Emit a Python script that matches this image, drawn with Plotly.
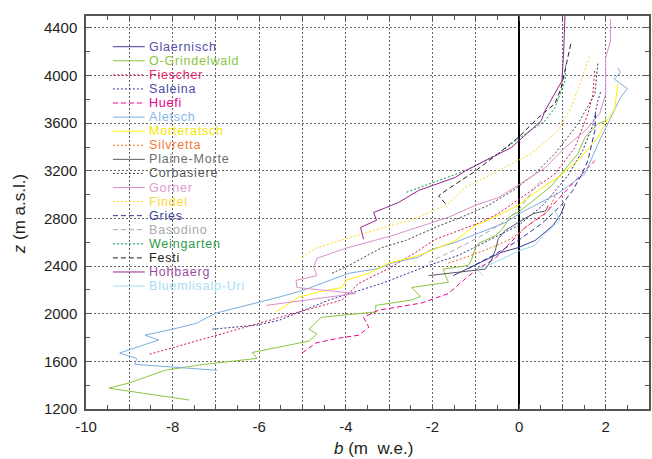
import plotly.graph_objects as go

# ---- mass-balance profiles: b (m w.e.) against elevation z (m a.s.l.) ----
glaernisch_b = [-1.52, -1.17, -0.78, -0.41, -0.02, 0.37, 0.78, 0.97, 1.06]
glaernisch_z = [2320, 2380, 2450, 2515, 2555, 2615, 2740, 2840, 2925]

grindelwald_b = [-7.61, -9.47, -8.99, -8.18, -7.38, -6.05, -6.16, -4.85, -4.67, -4.85, -4.57,
                 -3.31, -3.31, -2.48, -2.28, -2.48, -1.63, -1.70, -1.75, -1.17, -1.10, -1.01,
                 -0.94, -0.55, -0.41, -0.18, -0.02, 0.37, 0.74, 1.36, 1.52, 1.82, 2.00, 2.00]
grindelwald_z = [1275, 1375, 1420, 1525, 1570, 1625, 1675, 1770, 1830, 1870, 1970,
                 2015, 2070, 2115, 2145, 2220, 2265, 2320, 2375, 2405, 2450, 2555,
                 2590, 2655, 2700, 2825, 2850, 2965, 3070, 3345, 3480, 3595, 3620, 3660]

fiescher_b = [-8.53, -7.38, -6.00, -5.08, -4.09, -3.70, -3.01, -2.39, -1.93, -1.56, -0.94,
              -0.48, 0.44, 0.83, 1.29, 1.59, 1.70, 1.75]
fiescher_z = [1660, 1780, 1920, 2015, 2115, 2255, 2380, 2515, 2625, 2675, 2760,
              2840, 3075, 3175, 3395, 3680, 3830, 4055]

saleina_b = [-7.08, -6.05, -5.54, -4.39, -3.17, -2.09, -1.40, -0.71, -0.02, 0.55, 1.13,
             1.47, 1.70, 1.82, 1.89]
saleina_z = [1870, 1905, 1945, 2115, 2255, 2405, 2490, 2615, 2740, 2910, 3160,
             3370, 3580, 3790, 3870]

huefi_b = [-5.01, -4.69, -4.16, -3.70, -3.47, -3.59, -3.24, -2.78, -2.25, -1.63, -1.24,
           -0.94, -0.55, 0.14, 0.60, 1.24, 1.75]
huefi_z = [1670, 1755, 1795, 1820, 1885, 1970, 2030, 2055, 2090, 2170, 2295,
           2380, 2465, 2725, 2840, 3095, 3285]

aletsch_b = [-6.97, -8.87, -8.83, -9.22, -8.32, -8.64, -8.00, -7.45, -7.00, -6.00, -5.54,
             -5.00, -3.93, -3.24, -2.94, -2.32, -2.02, -1.47, -0.94, -0.32, 0.05, 0.60,
             0.90, 1.52, 1.89, 2.05, 2.34, 2.50, 2.20, 2.34, 2.28]
aletsch_z = [1525, 1575, 1625, 1670, 1780, 1820, 1870, 1920, 2005, 2095, 2140,
             2195, 2340, 2380, 2425, 2475, 2540, 2600, 2675, 2765, 2850, 2950,
             3010, 3175, 3480, 3595, 3815, 3890, 3970, 4025, 4065]

morteratsch_b = [-5.61, -5.08, -4.67, -4.09, -4.00, -3.47, -3.01, -2.39, -2.02, -1.47, -1.01,
                 -0.48, -0.02, 0.44, 0.90, 1.36, 1.82, 1.98, 2.21, 2.28]
morteratsch_z = [2015, 2140, 2180, 2220, 2280, 2340, 2425, 2480, 2530, 2615, 2740,
                 2825, 2910, 3035, 3145, 3285, 3480, 3595, 3720, 3930]

silvretta_b = [-1.63, -1.10, -0.64, -0.18, 0.21, 0.67, 0.80, 0.90]
silvretta_z = [2425, 2490, 2555, 2630, 2740, 2865, 2965, 3035]

plainemorte_b = [-2.09, -0.78, -0.64, -0.55, -0.48, -0.32, -0.02, 0.32, 0.62, 0.67]
plainemorte_z = [2320, 2375, 2450, 2530, 2630, 2700, 2765, 2840, 2865, 2910]

corbasiere_b = [-4.32, -3.93, -3.17, -2.62, -1.93, -1.24, -0.71, -0.14, 0.32, 0.83, 1.36,
                1.75, 1.82]
corbasiere_z = [2340, 2405, 2555, 2615, 2725, 2825, 2910, 3035, 3160, 3345, 3595,
                3845, 4105]

gorner_b = [-5.84, -3.77, -5.13, -5.15, -4.67, -4.74, -4.67, -4.00, -2.94, -1.63, -1.01,
            -0.48, 0.05, 0.60, 1.06, 1.52, 1.86, 2.00, 2.00, 2.11, 2.11]
gorner_z = [2070, 2170, 2220, 2280, 2320, 2390, 2465, 2550, 2655, 2810, 2910,
            2975, 3095, 3225, 3395, 3535, 3680, 3845, 4150, 4290, 4475]

findel_b = [-5.01, -4.69, -4.00, -3.17, -2.39, -1.63, -1.24, -0.48, 0.28, 0.90, 1.20,
            1.43, 1.63]
findel_z = [2475, 2550, 2630, 2715, 2800, 2925, 3060, 3200, 3345, 3535, 3730,
            3955, 4165]

gries_b = [-1.17, -0.60, -0.02, 0.55, 0.97, 1.24, 1.43, 1.59, 1.75, 1.77]
gries_z = [2380, 2490, 2615, 2765, 2910, 3035, 3160, 3285, 3540, 3700]

basodino_b = [-2.09, -1.52, -0.94, -0.48, -0.02, 0.32, 0.55]
basodino_z = [2430, 2530, 2640, 2740, 2865, 3035, 3135]

weingarten_b = [-2.60, -2.02, -1.24, -0.48, 0.14, 0.60, 0.83, 0.97, 1.06, 1.08]
weingarten_z = [3020, 3095, 3200, 3345, 3510, 3620, 3730, 3870, 3955, 4105]

festi_b = [-1.70, -1.86, -1.63, -1.06, -0.48, -0.02, 0.44, 0.83, 0.97, 1.08, 1.20]
festi_z = [2925, 2990, 3050, 3185, 3345, 3480, 3645, 3765, 3895, 4065, 4275]

hohbaerg_b = [-3.59, -3.66, -3.29, -3.36, -3.08, -2.78, -2.32, -1.47, -1.24, -0.18, 0.05,
              0.51, 0.60, 0.99, 1.03, 1.06]
hohbaerg_z = [2625, 2725, 2785, 2850, 2890, 2935, 3035, 3145, 3200, 3395, 3470,
              3620, 3705, 3955, 4205, 4500]

bluemlisalp_b = [-0.83, -0.99, -0.71, -0.32, -0.02, 0.37, 0.55, 0.94, 0.83]
bluemlisalp_z = [2320, 2380, 2405, 2475, 2525, 2575, 2655, 2785, 2865]

# glacier names, in legend order
names = ["Glaernisch", "O-Grindelwald", "Fiescher", "Saleina", "Huefi", "Aletsch",
         "Morteratsch", "Silvretta", "Plaine-Morte", "Corbasiere", "Gorner", "Findel",
         "Gries", "Basodino", "Weingarten", "Festi", "Hohbaerg", "Bluemlisalp-Uri"]

profiles = [
    (glaernisch_b, glaernisch_z), (grindelwald_b, grindelwald_z), (fiescher_b, fiescher_z),
    (saleina_b, saleina_z), (huefi_b, huefi_z), (aletsch_b, aletsch_z),
    (morteratsch_b, morteratsch_z), (silvretta_b, silvretta_z), (plainemorte_b, plainemorte_z),
    (corbasiere_b, corbasiere_z), (gorner_b, gorner_z), (findel_b, findel_z),
    (gries_b, gries_z), (basodino_b, basodino_z), (weingarten_b, weingarten_z),
    (festi_b, festi_z), (hohbaerg_b, hohbaerg_z), (bluemlisalp_b, bluemlisalp_z),
]

# line styles
DOT = "2px,2px"
DASH = "5px,3px"
colors = ["#3b3b98", "#8cc63f", "#d6125c", "#2e3192", "#ec008c", "#7eaee0",
          "#fff200", "#f26522", "#58595b", "#414042", "#d98fcb", "#ffd51a",
          "#2e3192", "#a7a9ac", "#009a44", "#231f20", "#92278f", "#a3dbef"]
dashes = ["solid", "solid", DOT, DOT, DASH, "solid",
          "solid", DOT, "solid", DOT, "solid", DOT,
          DASH, DASH, DOT, DASH, "solid", "solid"]
label_colors = ["#5050a8", "#8cc63f", "#e8206a", "#4b4ba8", "#ec008c", "#86b6e8",
                "#f5e600", "#f47a3a", "#6d6e71", "#58595b", "#e29bd0", "#fdd835",
                "#3c3fa0", "#a7a9ac", "#2f9a48", "#231f20", "#9b4da0", "#a8dcef"]

FONT = "Liberation Sans, Arial, sans-serif"

fig = go.Figure()
for name, (b, z), c, d in zip(names, profiles, colors, dashes):
    fig.add_trace(go.Scatter(x=b, y=z, mode="lines", name=name, showlegend=False,
                             line=dict(color=c, width=1, dash=d)))

# hand-built legend (compact row spacing)
L, R, T, B = 86, 1, 16, 50
W, H = 652 - L - R, 459 - T - B
ROW = 14.08


def px_x(p):
    return (p - L) / W


def px_y(p):
    return (T + H - p) / H


shapes = [dict(type="rect", xref="paper", yref="paper", layer="between",
               x0=px_x(106), x1=px_x(241), y0=px_y(299), y1=px_y(33),
               fillcolor="white", line=dict(width=0))]
annotations = []
for i, (name, c, d, lc) in enumerate(zip(names, colors, dashes, label_colors)):
    yy = px_y(46.7 + ROW * i)
    shapes.append(dict(type="line", xref="paper", yref="paper", layer="above",
                       x0=px_x(113), x1=px_x(145), y0=yy, y1=yy,
                       line=dict(color=c, width=1, dash=d)))
    annotations.append(dict(text=f'<span style="letter-spacing:0.8px">{name}</span>',
                            xref="paper", yref="paper", x=px_x(148), y=yy,
                            xanchor="left", yanchor="middle", showarrow=False,
                            borderpad=0,
                            font=dict(family=FONT, size=12.5, color=lc)))

annotations.append(dict(text="<i>b</i> (m&nbsp; w.e.)", xref="paper", yref="paper",
                        x=px_x(375), y=px_y(448), xanchor="center", yanchor="middle",
                        showarrow=False, font=dict(family=FONT, size=17, color="#231f20")))
annotations.append(dict(text="<i>z</i> (m a.s.l.)", xref="paper", yref="paper",
                        x=px_x(20), y=px_y(214), xanchor="center", yanchor="middle",
                        textangle=-90, showarrow=False,
                        font=dict(family=FONT, size=17, color="#231f20")))

x_ticks = list(range(-10, 4))
y_ticks = list(range(1200, 4401, 400))

axis_common = dict(ticks="inside", ticklen=5, tickcolor="#555", showline=True,
                   linecolor="#555", linewidth=1.5, mirror="ticks", showgrid=True,
                   gridcolor="#666", gridwidth=1, griddash="2px,2px",
                   tickfont=dict(family=FONT, size=15, color="#231f20"))

fig.update_layout(
    width=652, height=459,
    margin=dict(l=L, r=R, t=T, b=B),
    paper_bgcolor="white", plot_bgcolor="white",
    shapes=shapes, annotations=annotations,
    xaxis=dict(range=[-10, 3], tickmode="array", tickvals=x_ticks,
               ticktext=[str(v) if v % 2 == 0 else "" for v in x_ticks],
               zeroline=True, zerolinecolor="black", zerolinewidth=1.5,
               minor=dict(dtick=0.5, tick0=0, ticks="inside", ticklen=4,
                          tickcolor="#555", showgrid=False),
               ticklabelstandoff=3, **axis_common),
    yaxis=dict(range=[1200, 4500], tickmode="array", tickvals=y_ticks,
               ticktext=[str(v) for v in y_ticks], zeroline=False,
               minor=dict(dtick=200, tick0=1200, ticks="inside", ticklen=4,
                          tickcolor="#555", showgrid=False),
               ticklabelstandoff=4, **axis_common),
)

fig.write_html("out.html")
